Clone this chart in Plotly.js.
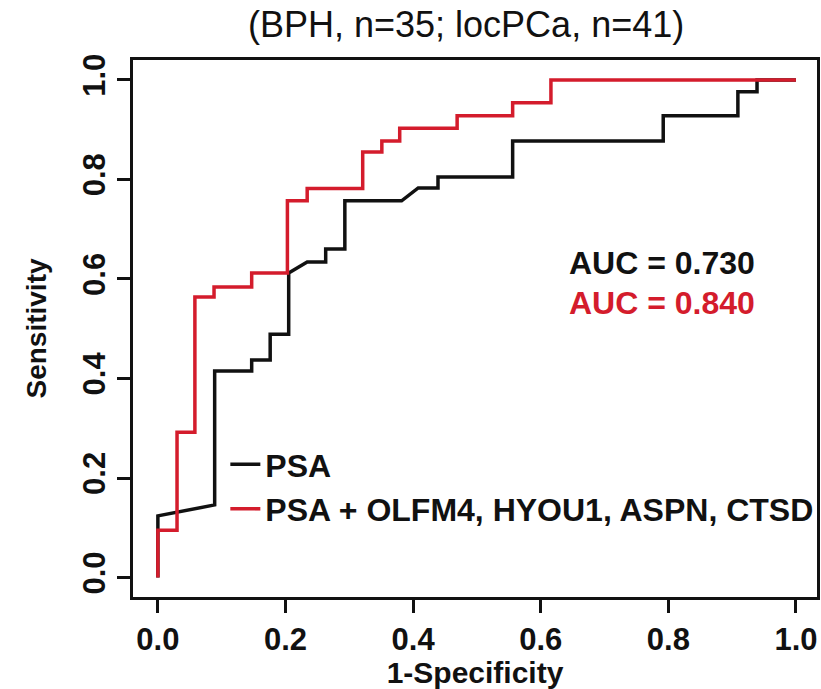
<!DOCTYPE html>
<html>
<head>
<meta charset="utf-8">
<script src="https://cdn.plot.ly/plotly-3.0.1.min.js"></script>
<style>html,body{margin:0;padding:0;background:#fff;}#chart{width:821px;height:689px;}</style>
</head>
<body>
<div id="chart"></div>
<script>
// 1-Specificity / Sensitivity
const fprPSA = [0, 0, 0.089, 0.089, 0.147, 0.147, 0.176, 0.176, 0.205, 0.205, 0.234, 0.263, 0.263, 0.293, 0.293, 0.382, 0.408, 0.439, 0.439, 0.556, 0.556, 0.792, 0.792, 0.909, 0.909, 0.939, 0.939, 1.0];
const tprPSA = [0, 0.124, 0.146, 0.415, 0.415, 0.437, 0.437, 0.489, 0.489, 0.612, 0.634, 0.634, 0.660, 0.660, 0.757, 0.757, 0.783, 0.783, 0.805, 0.805, 0.877, 0.877, 0.928, 0.928, 0.976, 0.976, 1.0, 1.0];
const fprCombo = [0, 0, 0.030, 0.030, 0.058, 0.058, 0.088, 0.088, 0.147, 0.147, 0.203, 0.203, 0.234, 0.234, 0.321, 0.321, 0.351, 0.351, 0.379, 0.379, 0.469, 0.469, 0.556, 0.556, 0.616, 0.616, 1.0];
const tprCombo = [0, 0.095, 0.095, 0.292, 0.292, 0.564, 0.564, 0.584, 0.584, 0.612, 0.612, 0.757, 0.757, 0.782, 0.782, 0.855, 0.855, 0.877, 0.877, 0.903, 0.903, 0.928, 0.928, 0.954, 0.954, 1.0, 1.0];
const seriesNames = ["PSA", "PSA + OLFM4, HYOU1, ASPN, CTSD"];
const aucValues = [0.730, 0.840];
const tickVals = [0, 0.2, 0.4, 0.6, 0.8, 1.0];
const tickLabels = ["0.0", "0.2", "0.4", "0.6", "0.8", "1.0"];
const titleText = "(BPH, n=35; locPCa, n=41)";

const colors = ["#111111", "#d41c2c"];
const sans = "Liberation Sans, Arial, sans-serif";

const traces = [
  {x: fprPSA, y: tprPSA, mode: "lines", name: seriesNames[0], legendgroup: "a",
   line: {color: colors[0], width: 3.5}},
  {x: fprCombo, y: tprCombo, mode: "lines", name: seriesNames[1], legendgroup: "b",
   line: {color: colors[1], width: 3.5}}
];

const layout = {
  width: 821, height: 689,
  margin: {l: 133, r: 4, t: 60, b: 92, autoexpand: false},
  paper_bgcolor: "#fff", plot_bgcolor: "#fff",
  title: {text: titleText, font: {family: sans, size: 36, color: "#111"},
          xref: "paper", x: 0.487, xanchor: "center", yref: "container", y: 0.965, yanchor: "middle"},
  xaxis: {range: [-0.039, 1.033], tickvals: tickVals, ticktext: tickLabels,
          showgrid: false, zeroline: false, showline: true, mirror: true, linecolor: "#111", linewidth: 3,
          ticks: "outside", ticklen: 13, tickwidth: 3, tickcolor: "#111", ticklabeloverflow: "allow",
          tickfont: {family: sans, size: 31, color: "#111", weight: "bold"},
          title: {text: "1-Specificity", font: {family: sans, size: 30, color: "#111", weight: "bold"}, standoff: 1},
          automargin: false},
  yaxis: {range: [-0.039, 1.040], tickvals: tickVals, ticktext: tickLabels, tickangle: -90,
          showgrid: false, zeroline: false, showline: true, mirror: true, linecolor: "#111", linewidth: 3,
          ticks: "outside", ticklen: 13, tickwidth: 3, tickcolor: "#111", ticklabeloverflow: "allow",
          tickfont: {family: sans, size: 31, color: "#111", weight: "bold"},
          title: {text: "Sensitivity", font: {family: sans, size: 28, color: "#111", weight: "bold"}, standoff: 22},
          automargin: false},
  showlegend: true,
  legend: {x: 0.135, y: 0.205, xanchor: "left", yanchor: "middle", bgcolor: "rgba(0,0,0,0)",
           font: {family: sans, size: 32, color: "#111", weight: "bold"}, tracegroupgap: 13,
           traceorder: "normal"},
  annotations: [
    {xref: "x", yref: "y", x: 0.641, y: 0.632, xanchor: "left", yanchor: "middle", showarrow: false,
     text: "AUC = " + aucValues[0].toFixed(3), font: {family: sans, size: 32, color: colors[0], weight: "bold"}},
    {xref: "x", yref: "y", x: 0.641, y: 0.552, xanchor: "left", yanchor: "middle", showarrow: false,
     text: "AUC = " + aucValues[1].toFixed(3), font: {family: sans, size: 32, color: colors[1], weight: "bold"}}
  ]
};

Plotly.newPlot("chart", traces, layout, {displayModeBar: false, staticPlot: true});
</script>
</body>
</html>
